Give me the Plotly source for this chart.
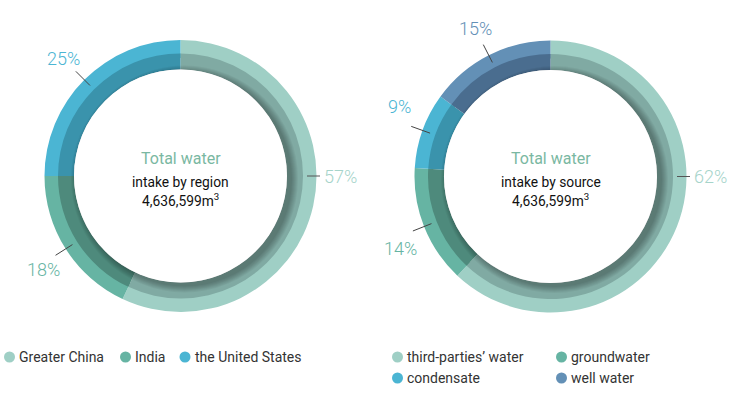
import math
import plotly.graph_objects as go

W, H = 734, 395

# ---------------- data ----------------
region_labels = ["Greater China", "India", "the United States"]
region_values = [57, 18, 25]
source_labels = ["third-parties’ water", "groundwater", "condensate", "well water"]
source_values = [62, 14, 9, 15]

center_title = "Total water"
region_subtitle = "intake by region"
source_subtitle = "intake by source"
total_text = "4,636,599m<sup>3</sup>"

# ---------------- style ----------------
region_colors = ["#9fcfc5", "#66b4a3", "#4bb5d3"]
region_dark = ["#80aaa3", "#4e8a7c", "#3a93ac"]
source_colors = ["#9fcfc5", "#66b4a3", "#4bb5d3", "#6390b6"]
source_dark = ["#80aaa3", "#4e8a7c", "#3a93ac", "#4a6d8f"]
label_colors_region = ["#a6d4ca", "#66b4a3", "#4bb5d3"]
label_colors_source = ["#a6d4ca", "#66b4a3", "#4bb5d3", "#6390b6"]
# small angular nudges (degrees) for the outside percentage texts
label_nudge_region = [0, -2, 0]
label_nudge_source = [0, -4, 5, 0]

R_OUT, R_MID, R_HOLE = 136, 122.5, 106.5
charts = [
    dict(cx=180.5, cy=176, labels=region_labels, values=region_values,
         colors=region_colors, dark=region_dark, lcol=label_colors_region,
         nudge=label_nudge_region, sub=region_subtitle, side_first=True),
    dict(cx=550.5, cy=176.5, labels=source_labels, values=source_values,
         colors=source_colors, dark=source_dark, lcol=label_colors_source,
         nudge=label_nudge_source, sub=source_subtitle, side_first=True),
]

FONT = "Roboto"


def px(x):
    return x / W


def py(y):
    return (H - y) / H


fig = go.Figure()
shapes = []
annotations = []

for ch in charts:
    cx, cy = ch["cx"], ch["cy"]
    # outer light ring
    fig.add_trace(go.Pie(
        labels=ch["labels"], values=ch["values"], sort=False,
        direction="clockwise", rotation=0, hole=118 / R_OUT,
        marker=dict(colors=ch["colors"], line=dict(width=0)),
        textinfo="none", hoverinfo="label+percent", showlegend=False,
        domain=dict(x=[px(cx - R_OUT), px(cx + R_OUT)],
                    y=[py(cy + R_OUT), py(cy - R_OUT)]),
    ))
    # inner darker band
    fig.add_trace(go.Pie(
        labels=ch["labels"], values=ch["values"], sort=False,
        direction="clockwise", rotation=0, hole=R_HOLE / R_MID,
        marker=dict(colors=ch["dark"], line=dict(width=0)),
        textinfo="none", hoverinfo="label+percent", showlegend=False,
        domain=dict(x=[px(cx - R_MID), px(cx + R_MID)],
                    y=[py(cy + R_MID), py(cy - R_MID)]),
    ))
    # inner shadow of the hole (offset toward lower right)
    for k in range(1, 8):
        r = R_HOLE + k
        ox, oy = cx + 4, cy + 3
        shapes.append(dict(type="circle", xref="paper", yref="paper", layer="above",
                           x0=px(ox - r), x1=px(ox + r), y0=py(oy + r), y1=py(oy - r),
                           fillcolor="rgba(0,0,0,0.045)", line=dict(width=0)))
    shapes.append(dict(type="circle", xref="paper", yref="paper", layer="above",
                       x0=px(cx - R_HOLE), x1=px(cx + R_HOLE),
                       y0=py(cy + R_HOLE), y1=py(cy - R_HOLE),
                       fillcolor="white", line=dict(width=0)))

    # percentage labels with leader lines
    total = sum(ch["values"])
    cum = 0
    for i, v in enumerate(ch["values"]):
        mid = (cum + v / 2) / total * 360
        cum += v
        pct = f"{round(v / total * 100)}%"
        if i == 0 and ch["side_first"]:
            a = math.radians(90)
            r1, r2 = 126.5, 139.5
            x1, y1 = cx + r1 * math.sin(a), cy - r1 * math.cos(a)
            x2, y2 = cx + r2 * math.sin(a), cy - r2 * math.cos(a)
            shapes.append(dict(type="line", xref="paper", yref="paper", layer="above",
                               x0=px(x1), y0=py(y1), x1=px(x2), y1=py(y2),
                               line=dict(color="#555555", width=1)))
            annotations.append(dict(x=px(x2 + 1.5), y=py(y2), xref="paper", yref="paper",
                                    text=pct, showarrow=False, xanchor="left", yanchor="middle",
                                    font=dict(family=FONT, size=18, color=ch["lcol"][i], weight=300)))
        else:
            a = math.radians(mid)
            at = math.radians(mid + ch["nudge"][i])
            r1, r2, rt = 128, 148, 166
            x1, y1 = cx + r1 * math.sin(a), cy - r1 * math.cos(a)
            x2, y2 = cx + r2 * math.sin(a), cy - r2 * math.cos(a)
            xt, yt = cx + rt * math.sin(at), cy - rt * math.cos(at)
            shapes.append(dict(type="line", xref="paper", yref="paper", layer="above",
                               x0=px(x1), y0=py(y1), x1=px(x2), y1=py(y2),
                               line=dict(color="#444444", width=1)))
            annotations.append(dict(x=px(xt), y=py(yt), xref="paper", yref="paper",
                                    text=pct, showarrow=False, xanchor="center", yanchor="middle",
                                    font=dict(family=FONT, size=18, color=ch["lcol"][i], weight=300)))

    # center text
    annotations.append(dict(x=px(cx), y=py(158), xref="paper", yref="paper", text=center_title,
                            showarrow=False, xanchor="center", yanchor="middle",
                            font=dict(family=FONT, size=16, color="#7ab8a2")))
    annotations.append(dict(x=px(cx), y=py(181.5), xref="paper", yref="paper", text=ch["sub"],
                            showarrow=False, xanchor="center", yanchor="middle",
                            font=dict(family=FONT, size=13.8, color="#111111")))
    annotations.append(dict(x=px(cx), y=py(200), xref="paper", yref="paper", text=total_text,
                            showarrow=False, xanchor="center", yanchor="middle",
                            font=dict(family=FONT, size=13.8, color="#111111")))

# ---------------- legends (manual, circular markers) ----------------
legend_items = [
    (region_labels[0], region_colors[0], 9.5, 357),
    (region_labels[1], region_colors[1], 125.5, 357),
    (region_labels[2], region_colors[2], 185, 357),
    (source_labels[0], source_colors[0], 397.5, 357),
    (source_labels[1], source_colors[1], 561.5, 357),
    (source_labels[2], source_colors[2], 397.5, 378),
    (source_labels[3], source_colors[3], 561.5, 378),
]
for name, col, lx, ly in legend_items:
    rr = 5.5
    shapes.append(dict(type="circle", xref="paper", yref="paper", layer="above",
                       x0=px(lx - rr), x1=px(lx + rr), y0=py(ly + rr), y1=py(ly - rr),
                       fillcolor=col, line=dict(width=0)))
    annotations.append(dict(x=px(lx + 7.5), y=py(ly), xref="paper", yref="paper", text=name,
                            showarrow=False, xanchor="left", yanchor="middle",
                            font=dict(family=FONT, size=14, color="#333333")))

fig.update_layout(
    width=W, height=H,
    margin=dict(l=0, r=0, t=0, b=0),
    paper_bgcolor="white", plot_bgcolor="white",
    shapes=shapes, annotations=annotations,
    showlegend=False,
)

fig.write_html("out.html", config={"displayModeBar": False},
               post_script="document.body.style.margin='0px';")
